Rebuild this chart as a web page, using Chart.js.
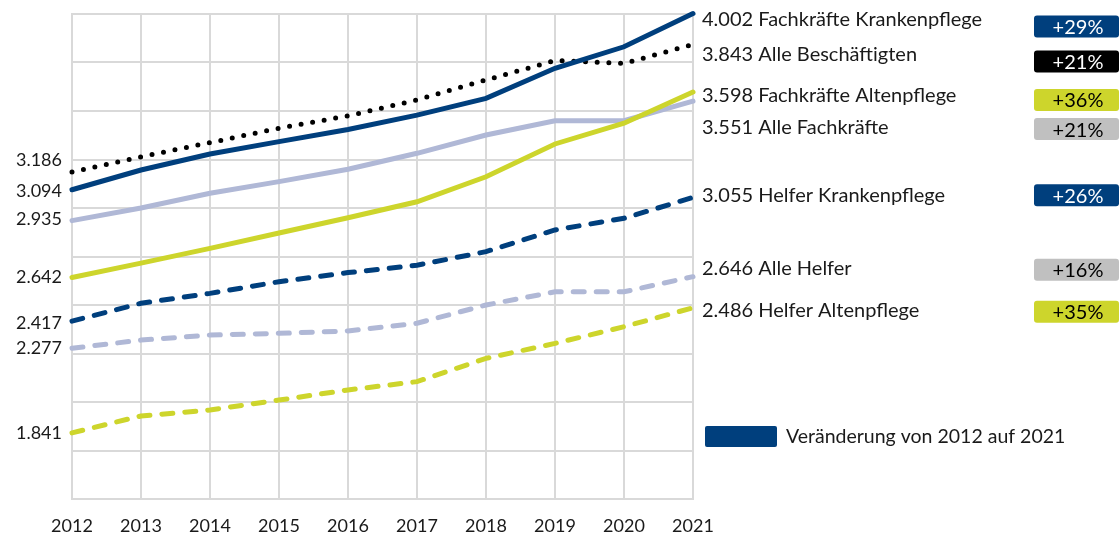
<!DOCTYPE html>
<html>
<head>
<meta charset="utf-8">
<script src="https://cdn.jsdelivr.net/npm/chart.js@4/dist/chart.umd.min.js"></script>
<style>
  html, body { margin: 0; padding: 0; background: #fff; }
  #wrap { width: 1120px; height: 538px; }
</style>
</head>
<body>
<div id="wrap"><canvas id="chart" width="1120" height="538"></canvas></div>
<script>
const years = ["2012", "2013", "2014", "2015", "2016", "2017", "2018", "2019", "2020", "2021"];

const fachKrankenpflege = [3094, 3196, 3278, 3342, 3405, 3479, 3565, 3720, 3831, 4002];
const alleBeschaeftigten = [3186, 3264, 3337, 3411, 3475, 3557, 3660, 3760, 3745, 3843];
const fachAltenpflege = [2642, 2716, 2792, 2871, 2950, 3032, 3161, 3330, 3437, 3598];
const alleFachkraefte = [2935, 3000, 3076, 3136, 3200, 3282, 3376, 3450, 3450, 3551];
const helferKrankenpflege = [2417, 2509, 2560, 2620, 2667, 2705, 2775, 2887, 2947, 3055];
const alleHelfer = [2277, 2319, 2345, 2354, 2366, 2406, 2500, 2568, 2568, 2646];
const helferAltenpflege = [1841, 1928, 1959, 2010, 2062, 2105, 2225, 2302, 2388, 2486];

const seriesNames = [
  "Fachkräfte Krankenpflege",
  "Alle Beschäftigten",
  "Fachkräfte Altenpflege",
  "Alle Fachkräfte",
  "Helfer Krankenpflege",
  "Alle Helfer",
  "Helfer Altenpflege",
];
const legendText = "Veränderung von 2012 auf 2021";

const BLUE = "#003f7d";
const LIGHT = "#b0b8d6";
const GREEN = "#cdd52c";
const FONT = "Lato, 'Noto Sans', sans-serif";

// label nudges in px so the texts don't collide
const leftNudge = [1, -12, 0, -1, 2, 0, 0];
const rightNudge = [6, 10, 4, 26, -2, -8, 3];
const boxNudge = [13, 17, 8, 28, -2, -7, 4];
const boxFill = [BLUE, "#000000", GREEN, "#c0c0c0", BLUE, "#c0c0c0", GREEN];
const boxText = ["#fff", "#fff", "#000", "#000", "#fff", "#000", "#000"];

function fmt(v) {
  const t = Math.floor(v / 1000);
  const r = String(v % 1000).padStart(3, "0");
  return t + "." + r;
}

const solid = { borderWidth: 5, pointRadius: 0, tension: 0, fill: false, borderCapStyle: "round", clip: false };
const dashed = { ...solid, borderDash: [11, 12] };
const dotted = { ...solid, borderDash: [0, 11.7] };

const datasets = [
  { ...solid, label: seriesNames[0], data: fachKrankenpflege, borderColor: BLUE },
  { ...dotted, label: seriesNames[1], data: alleBeschaeftigten, borderColor: "#000" },
  { ...solid, label: seriesNames[2], data: fachAltenpflege, borderColor: GREEN },
  { ...solid, label: seriesNames[3], data: alleFachkraefte, borderColor: LIGHT },
  { ...dashed, label: seriesNames[4], data: helferKrankenpflege, borderColor: BLUE },
  { ...dashed, label: seriesNames[5], data: alleHelfer, borderColor: LIGHT },
  { ...dashed, label: seriesNames[6], data: helferAltenpflege, borderColor: GREEN },
];

const labelPlugin = {
  id: "labels",
  afterDatasetsDraw(chart) {
    const ctx = chart.ctx;
    const y = chart.scales.y;
    const area = chart.chartArea;
    ctx.save();
    ctx.textBaseline = "middle";
    chart.data.datasets.forEach((ds, i) => {
      const first = ds.data[0];
      const last = ds.data[ds.data.length - 1];
      ctx.fillStyle = "#1a1a1a";
      ctx.font = "18px " + FONT;
      ctx.textAlign = "right";
      ctx.fillText(fmt(first), area.left - 10, y.getPixelForValue(first) + leftNudge[i]);
      ctx.font = "20px " + FONT;
      ctx.textAlign = "left";
      ctx.fillText(fmt(last) + " " + ds.label, area.right + 9, y.getPixelForValue(last) + rightNudge[i]);

      // percent change box
      const pct = Math.round((last / first - 1) * 100);
      const cy = y.getPixelForValue(last) + boxNudge[i];
      ctx.fillStyle = boxFill[i];
      ctx.beginPath();
      ctx.roundRect(1034, cy - 11, 85, 22, 3);
      ctx.fill();
      ctx.fillStyle = boxText[i];
      ctx.textAlign = "center";
      ctx.fillText("+" + pct + "%", 1078, cy + 1);
    });

    // legend
    ctx.fillStyle = BLUE;
    ctx.beginPath();
    ctx.roundRect(705, 426, 72, 21, 2);
    ctx.fill();
    ctx.fillStyle = "#1a1a1a";
    ctx.font = "19.5px " + FONT;
    ctx.textAlign = "left";
    ctx.fillText(legendText, 786, 437);
    ctx.restore();
  },
};

new Chart(document.getElementById("chart"), {
  type: "line",
  data: { labels: years, datasets: datasets },
  plugins: [labelPlugin],
  options: {
    responsive: false,
    animation: false,
    layout: { padding: { left: 72, right: 427, top: 14, bottom: 0 } },
    plugins: { legend: { display: false }, tooltip: { enabled: false } },
    scales: {
      x: {
        offset: false,
        grid: { color: "#d9d9d9", lineWidth: 2, drawTicks: false },
        border: { color: "#d9d9d9", width: 2 },
        ticks: { color: "#1a1a1a", font: { size: 18, family: FONT }, padding: 16, maxRotation: 0 },
        afterFit: (axis) => { axis.height = 39; },
      },
      y: {
        min: 1500,
        max: 4000,
        ticks: { display: false, stepSize: 250 },
        grid: { color: "#d9d9d9", lineWidth: 2, drawTicks: false },
        border: { color: "#d9d9d9", width: 2 },
        afterFit: (axis) => { axis.width = 0; },
      },
    },
  },
});
</script>
</body>
</html>
